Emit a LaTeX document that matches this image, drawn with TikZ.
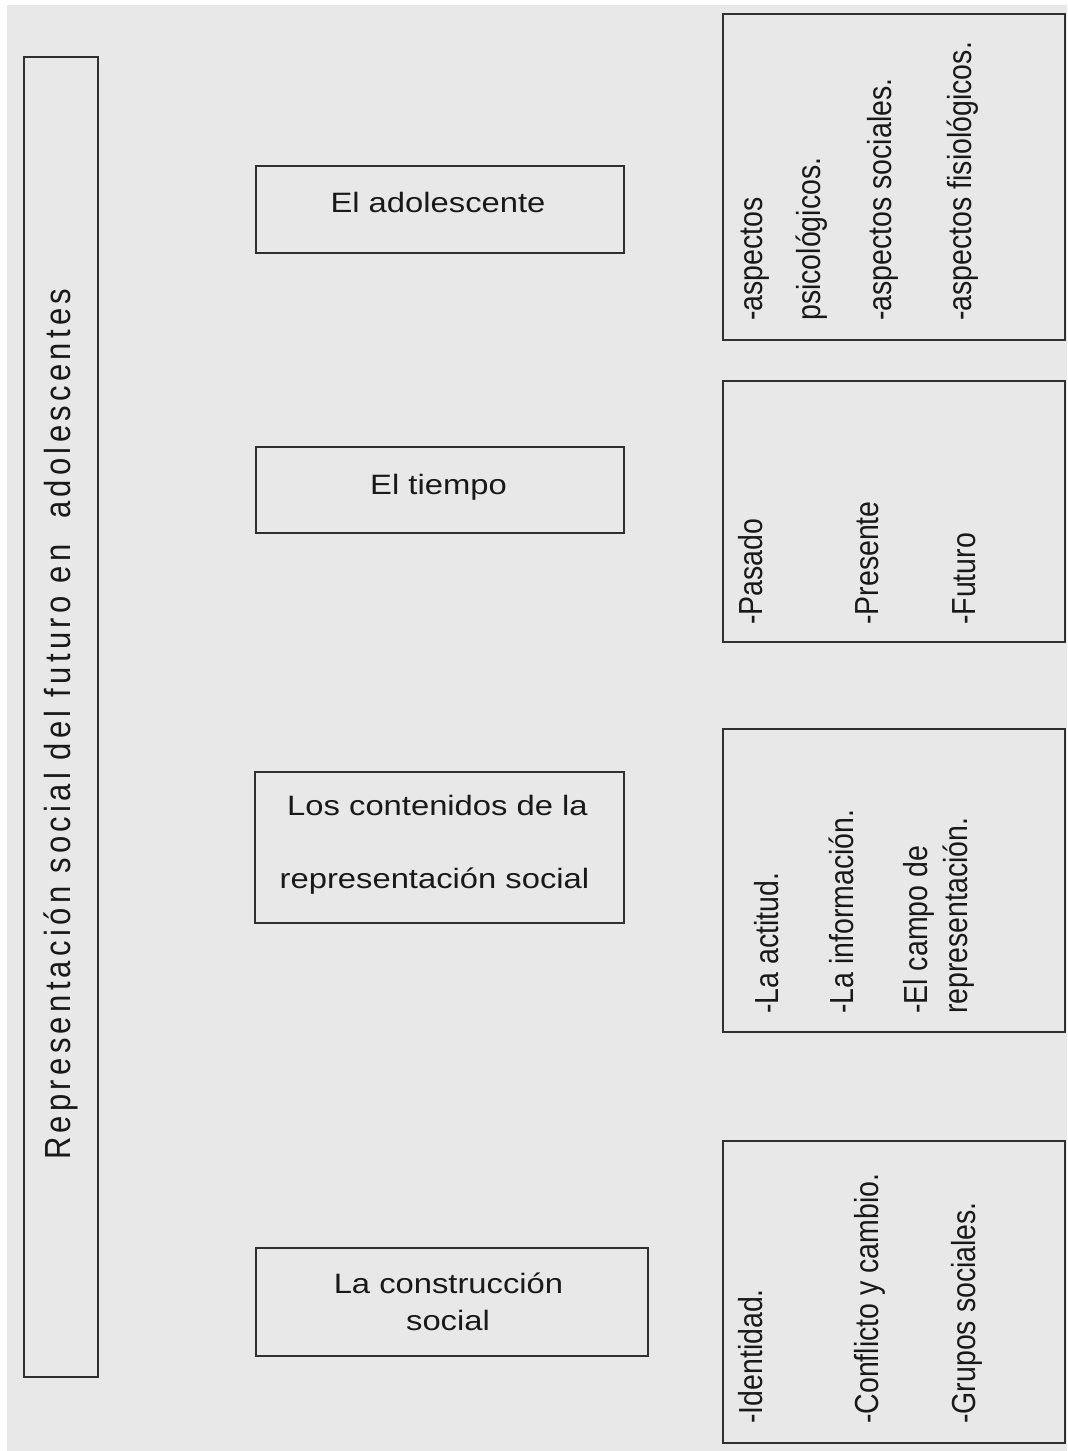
\documentclass[tikz,border=0pt]{standalone}
\usepackage{graphicx}
\usepackage{fontspec}
\setmainfont{Liberation Sans}
\newfontfamily\titlefont[LetterSpace=13.9]{Liberation Sans}
\definecolor{bg}{RGB}{232,232,232}
\definecolor{ln}{RGB}{48,48,48}
\definecolor{txt}{RGB}{25,25,25}
\newcommand{\hz}[1]{\scalebox{1.17}[1]{#1}}
\newcommand{\vt}[1]{\scalebox{1}[1.17]{#1}}
\begin{document}
\begin{tikzpicture}[x=1bp,y=-1bp,
  boxnode/.style={draw=ln,line width=2bp,rectangle,inner sep=0pt,outer sep=0pt},
  htext/.style={anchor=base,inner sep=0pt,font=\fontsize{28bp}{30bp}\selectfont,text=txt},
  rtext/.style={anchor=base west,rotate=90,inner sep=0pt,font=\fontsize{28.5bp}{30bp}\selectfont,text=txt}]
\useasboundingbox (0,0) rectangle (1067,1451);
\fill[white] (0,0) rectangle (1067,1451);
\fill[bg] (7,5) rectangle (1067,1451);
% left title box
\node[boxnode,minimum width=74bp,minimum height=1320bp] (tbox) at (61,717) {};
\node[rtext,font=\titlefont\fontsize{31bp}{33bp}\selectfont] (title) at (70,1160) {\vt{Representación social del futuro en~ adolescentes}};
% middle boxes
\node[boxnode,minimum width=368bp,minimum height=87bp] (b1) at (440,209.5) {};
\node[htext] (b1t) at (438,213) {\hz{El adolescente}};
\node[boxnode,minimum width=368bp,minimum height=86bp] (b2) at (440,490) {};
\node[htext] (b2t) at (438.5,494) {\hz{El tiempo}};
\node[boxnode,minimum width=369bp,minimum height=151bp] (b3) at (439.5,847.5) {};
\node[htext] (b3a) at (437.5,815) {\hz{Los contenidos de la}};
\node[htext] (b3b) at (434.5,888) {\hz{representación social}};
\node[boxnode,minimum width=392bp,minimum height=108bp] (b4) at (452,1302) {};
\node[htext] (b4a) at (448.5,1293) {\hz{La construcción}};
\node[htext] (b4b) at (448,1330) {\hz{social}};
% right boxes
\node[boxnode,minimum width=342bp,minimum height=326bp] (r1) at (894,177) {};
\node[rtext] (r1a) at (762,321) {\vt{-aspectos}};
\node[rtext] (r1b) at (820,321) {\vt{psicológicos.}};
\node[rtext] (r1c) at (891,321) {\vt{-aspectos sociales.}};
\node[rtext] (r1d) at (971,321) {\vt{-aspectos fisiológicos.}};
\node[boxnode,minimum width=342bp,minimum height=261bp] (r2) at (894,511.5) {};
\node[rtext] (r2a) at (762,625) {\vt{-Pasado}};
\node[rtext] (r2b) at (878,625) {\vt{-Presente}};
\node[rtext] (r2c) at (975,625) {\vt{-Futuro}};
\node[boxnode,minimum width=342bp,minimum height=303bp] (r3) at (894,880.5) {};
\node[rtext] (r3a) at (778,1014) {\vt{-La actitud.}};
\node[rtext] (r3b) at (853,1014) {\vt{-La información.}};
\node[rtext] (r3c) at (927,1014) {\vt{-El campo de}};
\node[rtext] (r3d) at (967,1014) {\vt{representación.}};
\node[boxnode,minimum width=342bp,minimum height=302bp] (r4) at (894,1292) {};
\node[rtext] (r4a) at (762,1424) {\vt{-Identidad.}};
\node[rtext] (r4b) at (878,1424) {\vt{-Conflicto y cambio.}};
\node[rtext] (r4c) at (975,1424) {\vt{-Grupos sociales.}};
\end{tikzpicture}
\end{document}
